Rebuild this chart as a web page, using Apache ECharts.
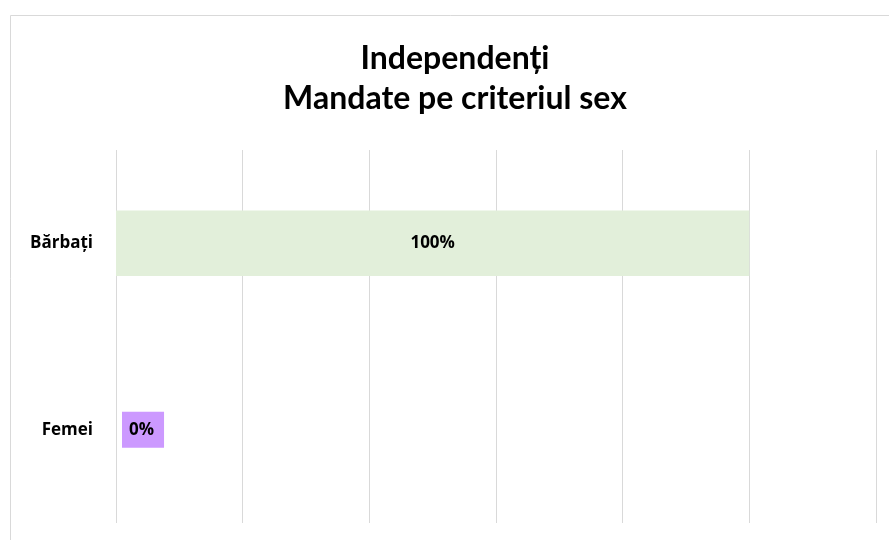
<!DOCTYPE html>
<html>
<head>
<meta charset="utf-8">
<script src="https://cdn.jsdelivr.net/npm/echarts@6/dist/echarts.min.js"></script>
<style>
  html, body { margin: 0; padding: 0; background: #fff; }
  #chart { width: 889px; height: 540px; }
</style>
</head>
<body>
<div id="chart"></div>
<script>
var categories = ['Bărbați', 'Femei']
var mandate = [100, 0]
var barColors = ['#E2EFDA', '#CC99FF']

var titleFont = 'Lato, "Open Sans", sans-serif'
var labelFont = '"Open Sans", Lato, sans-serif'

var seriesData = []
for (let i = 0; i < mandate.length; i++) {
  var item = {
    value: mandate[i],
    itemStyle: { color: barColors[i] }
  }
  if (mandate[i] === 0) {
    // Excel puts the zero label next to the axis with the bar colour as fill
    item.label = {
      position: 'right',
      distance: 6,
      backgroundColor: barColors[i],
      padding: [9, 10, 10, 7]
    }
  }
  seriesData.push(item)
}

var myChart = echarts.init(document.getElementById('chart'))
myChart.setOption({
  animation: false,
  title: {
    text: 'Independenți\nMandate pe criteriul sex',
    left: 450,
    top: 34,
    textAlign: 'center',
    textStyle: {
      fontFamily: titleFont,
      fontWeight: 'bold',
      fontSize: 32,
      lineHeight: 40,
      color: '#000'
    }
  },
  graphic: [{
    type: 'rect',
    shape: { x: 10.5, y: 15.5, width: 900, height: 600 },
    style: { fill: 'none', stroke: '#d9d9d9', lineWidth: 1 },
    silent: true
  }],
  grid: { left: 116, right: 13, top: 150, bottom: 17, containLabel: false },
  xAxis: {
    type: 'value',
    min: 0,
    max: 120,
    interval: 20,
    axisLabel: { show: false },
    axisLine: { show: false },
    axisTick: { show: false },
    splitLine: { show: true, lineStyle: { color: '#d9d9d9', width: 1 } }
  },
  yAxis: {
    type: 'category',
    inverse: true,
    data: categories,
    axisLine: { show: false },
    axisTick: { show: false },
    axisLabel: {
      margin: 23,
      fontFamily: labelFont,
      fontWeight: 'bold',
      fontSize: 17,
      color: '#000'
    }
  },
  series: [{
    type: 'bar',
    barWidth: '35%',
    data: seriesData,
    label: {
      show: true,
      position: 'inside',
      formatter: '{c}%',
      fontFamily: labelFont,
      fontWeight: 'bold',
      fontSize: 17,
      color: '#000'
    }
  }]
})
</script>
</body>
</html>
